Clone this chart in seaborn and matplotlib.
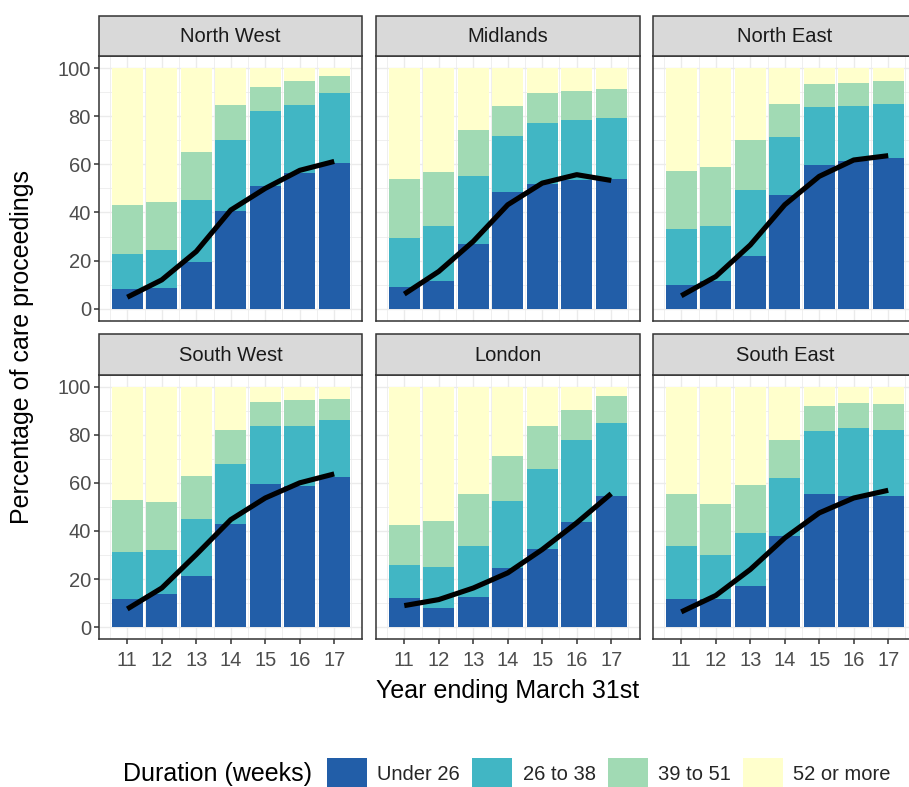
import numpy as np
import pandas as pd
import matplotlib
matplotlib.use("Agg")
import matplotlib.pyplot as plt
from matplotlib.patches import Rectangle, Patch
import seaborn as sns

# ---------------- data ----------------
years = [11, 12, 13, 14, 15, 16, 17]
regions = ["North West", "Midlands", "North East", "South West", "London", "South East"]
durations = ["Under 26", "26 to 38", "39 to 51", "52 or more"]
colors = ["#225EA8", "#41B6C4", "#A1DAB4", "#FFFFCC"]

under_26 = {
    "North West": [8.2, 8.6, 19.5, 40.7, 51.0, 56.2, 60.7],
    "Midlands":   [8.9, 11.4, 26.7, 48.6, 51.8, 53.3, 53.7],
    "North East": [9.7, 11.4, 22.0, 47.1, 59.8, 61.5, 62.5],
    "South West": [11.8, 14.0, 21.2, 42.9, 59.7, 58.6, 62.5],
    "London":     [12.2, 8.2, 12.5, 24.7, 32.7, 43.6, 54.7],
    "South East": [11.8, 11.8, 17.0, 37.8, 55.5, 54.7, 54.4],
}
weeks_26_38 = {
    "North West": [14.7, 15.9, 25.5, 29.5, 31.1, 28.3, 28.9],
    "Midlands":   [20.7, 23.1, 28.4, 23.0, 25.5, 25.0, 25.7],
    "North East": [23.4, 23.1, 27.4, 24.1, 24.1, 22.7, 22.7],
    "South West": [19.6, 17.9, 23.8, 25.0, 23.7, 25.2, 23.4],
    "London":     [13.6, 17.0, 21.3, 27.9, 33.1, 34.0, 30.2],
    "South East": [21.9, 18.3, 22.3, 24.1, 26.2, 28.0, 27.7],
}
weeks_39_51 = {
    "North West": [20.3, 20.0, 20.0, 14.3, 10.0, 10.0, 6.9],
    "Midlands":   [24.4, 22.4, 19.0, 12.5, 12.3, 12.3, 11.9],
    "North East": [24.0, 24.2, 20.8, 14.0, 9.5, 9.6, 9.3],
    "South West": [21.6, 20.3, 18.0, 14.0, 10.0, 10.5, 9.0],
    "London":     [16.7, 19.1, 21.5, 18.6, 18.0, 12.6, 11.1],
    "South East": [21.8, 20.9, 20.0, 15.9, 10.3, 10.4, 10.7],
}
# smoothed trend of the "Under 26" share
trend = {
    "North West": [4.8, 12.0, 23.8, 41.0, 50.0, 57.5, 61.2],
    "Midlands":   [6.1, 15.5, 28.0, 43.2, 52.2, 55.7, 53.3],
    "North East": [5.4, 13.4, 26.5, 43.2, 55.0, 61.8, 63.6],
    "South West": [7.6, 16.3, 30.2, 44.7, 53.7, 60.0, 63.7],
    "London":     [9.0, 11.5, 16.3, 22.6, 32.3, 43.4, 55.5],
    "South East": [6.4, 13.2, 24.0, 37.1, 47.5, 53.7, 56.9],
}

# ---------------- style ----------------
sns.set_theme(style="white")
plt.rcParams["font.family"] = ["Liberation Sans", "DejaVu Sans"]

W, H = 909, 787
fig = plt.figure(figsize=(W / 100, H / 100), dpi=100)

col_left = [99, 376, 653]
panel_w = 263.5
row_top = [56, 374.5]
panel_h = 264.8
strip_h = 40.5

dark = "#333333"
grid_c = "#EBEBEB"

for i, reg in enumerate(regions):
    r, c = divmod(i, 3)
    left = col_left[c] / W
    bottom = 1 - (row_top[r] + panel_h) / H
    ax = fig.add_axes([left, bottom, panel_w / W, panel_h / H])

    u = np.array(under_26[reg])
    c2 = u + np.array(weeks_26_38[reg])
    c3 = c2 + np.array(weeks_39_51[reg])
    layers = [np.full(len(years), 100.0), c3, c2, u]
    for vals, col in zip(layers, colors[::-1]):
        df = pd.DataFrame({"year": years, "pct": vals})
        sns.barplot(data=df, x="year", y="pct", native_scale=True, width=0.9,
                    color=col, saturation=1, linewidth=0, errorbar=None, ax=ax,
                    zorder=2)
    sns.lineplot(x=years, y=trend[reg], color="black", linewidth=3.7, ax=ax,
                 zorder=3, solid_capstyle="butt", solid_joinstyle="round")

    ax.set_xlim(10.18, 17.82)
    ax.set_ylim(-5, 105)
    ax.set_xticks(years)
    ax.set_xticks(np.arange(10.5, 18.0, 1.0), minor=True)
    ax.set_yticks(np.arange(0, 101, 20))
    ax.set_yticks(np.arange(10, 100, 20), minor=True)
    ax.set_xticklabels([str(y) for y in years])
    ax.grid(which="major", color=grid_c, linewidth=1.0)
    ax.grid(which="minor", color=grid_c, linewidth=0.55)
    ax.set_axisbelow(True)
    ax.set_facecolor("white")
    for sp in ax.spines.values():
        sp.set_color(dark)
        sp.set_linewidth(1.1)
        sp.set_visible(True)
    ax.set_xlabel("")
    ax.set_ylabel("")

    ax.tick_params(which="minor", length=0)
    ax.tick_params(which="major", length=3.6, width=1.1, color=dark,
                   labelcolor="#4D4D4D", labelsize=14.5, pad=2.2)
    ax.tick_params(axis="x", which="major", pad=4.5)
    if c != 0:
        ax.tick_params(axis="y", which="major", length=0, labelleft=False)
    else:
        ax.tick_params(axis="y", left=True)
    if r != 1:
        ax.tick_params(axis="x", which="major", length=0, labelbottom=False)
    else:
        ax.tick_params(axis="x", bottom=True)

    sf = strip_h / panel_h
    ax.add_patch(Rectangle((0, 1), 1, sf, transform=ax.transAxes, clip_on=False,
                           facecolor="#D9D9D9", edgecolor=dark, linewidth=1.1,
                           zorder=5))
    ax.text(0.5, 1 + sf / 2 - 0.004, reg, transform=ax.transAxes, ha="center",
            va="center", fontsize=14.5, color="#1A1A1A", zorder=6)

# axis titles
fig.text((99 + 916.5) / 2 / W, 1 - 691 / H, "Year ending March 31st",
         ha="center", va="center", fontsize=18, color="black")
fig.text(22 / W, 1 - 347.5 / H, "Percentage of care proceedings",
         ha="center", va="center", rotation=90, fontsize=18, color="black")

# legend
handles = [Patch(facecolor=col, edgecolor="none") for col in colors]
fig.legend(handles, durations, loc="center left",
           bbox_to_anchor=(327 / W, 1 - 774 / H), ncol=4, frameon=False,
           fontsize=14.5, handlelength=2.0, handleheight=2.1,
           handletextpad=0.5, columnspacing=0.6, borderpad=0,
           borderaxespad=0)
fig.text(123 / W, 1 - 774 / H, "Duration (weeks)", ha="left", va="center",
         fontsize=18, color="black")

fig.savefig("out.png", dpi=100, facecolor="white")
